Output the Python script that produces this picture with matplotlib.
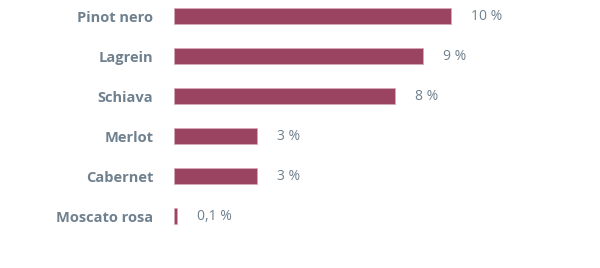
import matplotlib
matplotlib.use("Agg")
import matplotlib.pyplot as plt

# wine varieties and share in percent
varieties = ["Pinot nero", "Lagrein", "Schiava", "Merlot", "Cabernet", "Moscato rosa"]
shares = [10, 9, 8, 3, 3, 0.1]
share_labels = ["10 %", "9 %", "8 %", "3 %", "3 %", "0,1 %"]

bar_color = "#9a4462"
text_color = "#6f808e"

fig = plt.figure(figsize=(6, 2.68), dpi=100)
ax = fig.add_axes([174 / 600, 0, 426 / 600, 1])

pos = list(range(len(varieties)))
bars = ax.barh(pos, shares, height=0.4, color=bar_color,
               edgecolor="#d7a9b8", linewidth=0.6)

for rect, lab in zip(bars, share_labels):
    ax.annotate(lab, xy=(rect.get_width(), rect.get_y() + rect.get_height() / 2),
                xytext=(14.5, 0), textcoords="offset points",
                ha="left", va="center", fontsize=10, color=text_color,
                family="Open Sans")

ax.set_xlim(0, 426 / 27.67)
ax.set_ylim(6.3, -0.4)
ax.set_yticks(pos)
ax.set_yticklabels(varieties, fontsize=10.5, fontweight="bold",
                   color=text_color, family="Open Sans")
ax.tick_params(axis="y", length=0, pad=15)
ax.set_xticks([])
for s in ax.spines.values():
    s.set_visible(False)

fig.savefig("out.png", dpi=100)
